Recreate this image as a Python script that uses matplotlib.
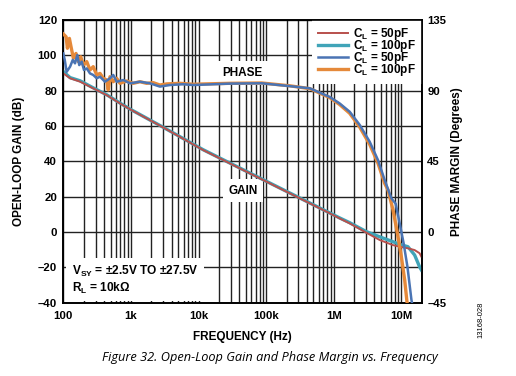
import matplotlib
matplotlib.use("Agg")
import matplotlib.pyplot as plt
from matplotlib.ticker import FixedLocator, LogLocator, NullFormatter

plt.rcParams["font.family"] = ["Liberation Sans", "DejaVu Sans"]
plt.rcParams["font.weight"] = "bold"
plt.rcParams["axes.labelweight"] = "bold"
plt.rcParams["mathtext.fontset"] = "custom"
plt.rcParams["mathtext.rm"] = "Liberation Sans:bold"
plt.rcParams["mathtext.bf"] = "Liberation Sans:bold"
plt.rcParams["mathtext.it"] = "Liberation Sans:bold"

# open-loop gain (dB)
gain_freq = [100, 126, 177, 277, 438, 689, 1000, 3000, 11700, 101000, 873000,
             1.22e6, 1.72e6, 3.04e6, 4.78e6, 7.52e6, 9.44e6, 12.5e6, 15.7e6, 18.6e6, 19.8e6]
gain_50pf = [89.8, 87.0, 85.1, 81.3, 77.5, 72.8, 69.2, 59.2, 46.4, 28.5, 10.6,
             7.7, 4.9, -0.4, -4.5, -7.4, -8.3, -9.2, -10.2, -12.0, -14.0]
gain_100pf = [90.8, 87.4, 85.6, 81.6, 77.7, 73.0, 69.3, 59.3, 46.6, 28.7, 10.8,
              8.0, 5.3, 0.2, -2.7, -5.5, -7.0, -8.3, -13.0, -19.7, -21.5]

# phase margin (degrees)
ph50_freq = [100, 105, 112, 126, 138, 149, 161, 172, 187, 202, 222, 248, 277, 312,
             349, 413, 490, 548, 615, 771, 968, 1360, 1910, 2685, 3775, 5930, 8340,
             29000, 86000, 224000, 442000, 871000, 1.22e6, 1.72e6, 2.42e6, 3.40e6,
             4.51e6, 5.66e6, 7.11e6, 8.24e6, 9.44e6, 10.8e6, 12.3e6, 14.1e6, 14.5e6]
ph50 = [113.7, 109.6, 102.0, 105.3, 109.6, 107.4, 112.7, 106.3, 108.5, 103.2, 104.2,
        101.0, 100.0, 97.9, 98.9, 95.7, 97.9, 100.0, 95.7, 96.8, 94.7, 95.7, 94.7,
        92.6, 93.6, 94.1, 93.6, 94.5, 94.7, 92.9, 91.5, 86.0, 81.9, 76.6, 68.2, 57.5,
        45.8, 33.1, 21.5, 18.0, 5.6, -7.2, -22.2, -43.3, -46.0]

ph100_freq = [100, 110, 115, 123, 130, 141, 154, 167, 181, 198, 222, 248, 277, 312,
              349, 390, 438, 462, 490, 548, 615, 689, 865, 1080, 1360, 1705, 2140,
              2685, 3370, 5300, 8340, 29000, 86000, 224000, 442000, 871000, 1.22e6,
              1.72e6, 2.42e6, 3.40e6, 4.51e6, 5.66e6, 6.34e6, 7.52e6, 8.74e6, 10e6,
              11.2e6, 12.1e6, 12.3e6]
ph100 = [126.1, 124.3, 117.0, 123.3, 118.0, 110.6, 113.7, 108.5, 111.6, 106.3, 108.5,
         103.2, 105.3, 100.0, 101.0, 97.9, 96.8, 90.5, 98.9, 95.7, 97.9, 94.7, 96.2,
         94.7, 95.7, 94.7, 95.1, 93.6, 94.3, 94.7, 94.1, 94.7, 94.9, 93.1, 91.3, 85.6,
         81.2, 75.6, 66.8, 55.8, 43.8, 31.0, 26.8, 14.1, -0.9, -15.8, -30.6, -44.4, -46.0]

freq_ticks = [1e2, 1e3, 1e4, 1e5, 1e6, 1e7]
freq_labels = ["100", "1k", "10k", "100k", "1M", "10M"]
gain_ticks = [-40, -20, 0, 20, 40, 60, 80, 100, 120]
gain_labels = ["\u201340", "\u201320", "0", "20", "40", "60", "80", "100", "120"]
phase_ticks = [-45, 0, 45, 90, 135]
phase_labels = ["\u201345", "0", "45", "90", "135"]

colors = {"red": "#B8504C", "teal": "#40A4B8", "blue": "#4A74B4", "orange": "#E5893A"}

fig = plt.figure(figsize=(5.16, 3.76), dpi=100)
ax = fig.add_axes([0.1227, 0.1949, 0.6946, 0.7519])
ax2 = ax.twinx()

ax.set_xscale("log")
ax.set_xlim(100, 20e6)
ax.set_ylim(-40, 120)
ax2.set_ylim(-45, 135)

ax.xaxis.set_major_locator(FixedLocator(freq_ticks))
ax.set_xticklabels(freq_labels)
ax.xaxis.set_minor_locator(LogLocator(base=10, subs=range(2, 10), numticks=20))
ax.xaxis.set_minor_formatter(NullFormatter())
ax.set_yticks(gain_ticks)
ax.set_yticklabels(gain_labels)
ax2.set_yticks(phase_ticks)
ax2.set_yticklabels(phase_labels)

ax.set_axisbelow(True)
ax.grid(True, which="both", axis="x", color="#222222", linewidth=1.0)
ax.grid(True, which="major", axis="y", color="#222222", linewidth=1.0)
ax.tick_params(which="both", length=0, labelsize=8.2)
ax.tick_params(axis="x", pad=6)
ax.tick_params(axis="y", pad=4.5)
ax2.tick_params(length=0, labelsize=8.2, pad=4)
for a in (ax, ax2):
    for s in a.spines.values():
        s.set_linewidth(1.2)
        s.set_color("black")

l_teal, = ax.plot(gain_freq, gain_100pf, color=colors["teal"], lw=2.4, zorder=4)
l_red, = ax.plot(gain_freq, gain_50pf, color=colors["red"], lw=1.4, zorder=5)
l_orange, = ax2.plot(ph100_freq, ph100, color=colors["orange"], lw=2.4, zorder=4)
l_blue, = ax2.plot(ph50_freq, ph50, color=colors["blue"], lw=1.8, zorder=5)
ax2.set_xlim(100, 20e6)

box = dict(facecolor="white", edgecolor="none", pad=4)
ax.text(4.5e4, 90, "PHASE", fontsize=8.5, ha="center", va="center", bbox=box, zorder=3)
ax.text(4.5e4, 23.4, "GAIN", fontsize=8.5, ha="center", va="center", bbox=box, zorder=3)
ax.text(0.024, 0.025, "V$_{SY}$ = \u00b12.5V TO \u00b127.5V\nR$_L$ = 10k\u03a9", transform=ax.transAxes,
        fontsize=8.6, ha="left", va="bottom", linespacing=1.15,
        bbox=dict(facecolor="white", edgecolor="none", pad=4), zorder=3)

leg = ax.legend([l_red, l_teal, l_blue, l_orange],
                ["C$_L$ = 50pF", "C$_L$ = 100pF", "C$_L$ = 50pF", "C$_L$ = 100pF"],
                loc="upper right", bbox_to_anchor=(1.0, 1.0), borderaxespad=0,
                fontsize=8.5, frameon=True, fancybox=False, framealpha=1,
                handlelength=2.6, labelspacing=-0.33, borderpad=0.5, handletextpad=0.4)
leg.get_frame().set_edgecolor("none")
leg.set_zorder(6)

ax.set_xlabel("FREQUENCY (Hz)", fontsize=8.5, labelpad=7)
ax.set_ylabel("OPEN-LOOP GAIN (dB)", fontsize=8.5, labelpad=9)
ax2.set_ylabel("PHASE MARGIN (Degrees)", fontsize=8.5, labelpad=3)

fig.text(0.523, 0.05, "Figure 32. Open-Loop Gain and Phase Margin vs. Frequency",
         fontsize=9.15, style="italic", weight="normal", ha="center", va="center",
         family=["Open Sans", "DejaVu Sans"])
fig.text(0.932, 0.149, "13168-028", fontsize=5.5, weight="normal", rotation=90,
         ha="center", va="center")

fig.savefig("out.png", dpi=100)
